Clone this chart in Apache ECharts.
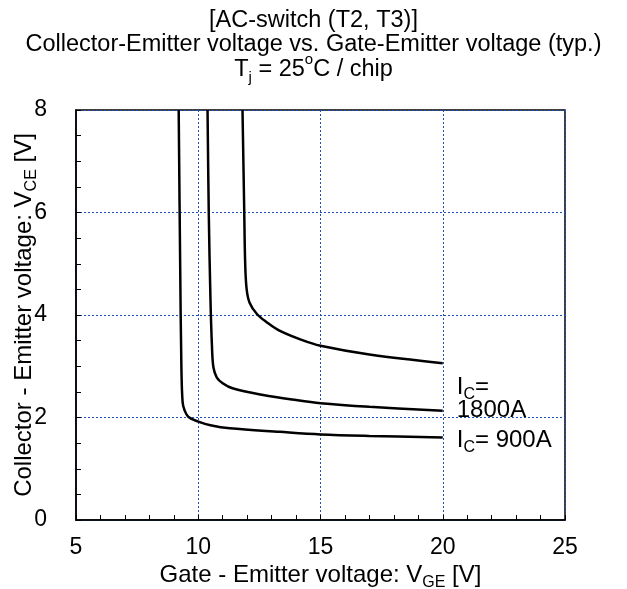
<!DOCTYPE html>
<html>
<head>
<meta charset="utf-8">
<script src="https://cdn.jsdelivr.net/npm/echarts@6/dist/echarts.min.js"></script>
<style>html,body{margin:0;padding:0;background:#fff}#c{width:627px;height:589px}</style>
</head>
<body>
<div id="c"></div>
<script>
// Data
const vge900  = [9.20, 9.26, 9.31, 9.36, 9.44, 9.60, 10.00, 10.50, 11.29, 13.34, 15.00, 17.00, 20.00];
const vce900  = [8.00, 5.00, 3.00, 2.30, 2.14, 2.01, 1.92, 1.85, 1.79, 1.72, 1.67, 1.64, 1.61];
const vge1800 = [10.38, 10.43, 10.50, 10.56, 10.62, 10.76, 11.00, 11.40, 12.65, 14.00, 15.00, 17.00, 20.00];
const vce1800 = [8.00, 6.00, 4.30, 3.40, 2.98, 2.78, 2.67, 2.57, 2.44, 2.34, 2.28, 2.21, 2.13];
const vge2700 = [11.81, 11.88, 11.92, 11.98, 12.10, 12.40, 12.80, 13.30, 14.20, 15.00, 17.00, 20.00];
const vce2700 = [8.00, 6.05, 5.00, 4.50, 4.24, 4.02, 3.86, 3.70, 3.52, 3.40, 3.23, 3.06];
const xTicks = [5, 10, 15, 20, 25];
const yTicks = [0, 2, 4, 6, 8];

const FONT = 'Liberation Sans, Arial, sans-serif';
const pair = (xs, ys) => xs.map((x, i) => [x, ys[i]]);

const chart = echarts.init(document.getElementById('c'), null, {renderer: 'canvas'});
const lineStyle = {color: '#000', width: 2.5};
const subStyle = {fontFamily: FONT, fontSize: 16, color: '#000', verticalAlign: 'bottom', padding: [0, 0, -4, 0]};
const labelRich = {
  m: {fontSize: 24, fontFamily: FONT, color: '#000', lineHeight: 23},
  s: subStyle
};
const gridLine = {color: '#1f4fb4', type: [2, 2], width: 1};

chart.setOption({
  animation: false,
  backgroundColor: '#fff',
  title: {
    text: '{m|[AC-switch (T2, T3)]}\n{m|Collector-Emitter voltage vs. Gate-Emitter voltage (typ.)}\n{m|T}{s|j}{m| = 25}{p|o}{m|C / chip}',
    left: 'center',
    top: 3,
    textStyle: {
      fontFamily: FONT, fontWeight: 'normal', color: '#000', fontSize: 23.5,
      rich: {
        m: {fontFamily: FONT, fontSize: 23.5, color: '#000', lineHeight: 24.5},
        s: {fontFamily: FONT, fontSize: 15, color: '#000', verticalAlign: 'bottom', padding: [0, 0, -4, 0]},
        p: {fontFamily: FONT, fontSize: 15, color: '#000', verticalAlign: 'top', padding: [-5, 0, 0, 0]}
      }
    }
  },
  grid: {left: 76, right: 62, top: 110, bottom: 69, outerBoundsMode: 'none', containLabel: false,
         show: true, borderColor: '#000', borderWidth: 1.5, backgroundColor: 'transparent'},
  xAxis: {
    type: 'value', min: xTicks[0], max: xTicks[xTicks.length - 1], interval: 5,
    name: '{m|Gate - Emitter voltage: V}{s|GE}{m| [V]}',
    nameLocation: 'middle', nameGap: 43, nameMoveOverlap: false,
    nameTextStyle: {
      rich: {
        m: {fontFamily: FONT, fontSize: 24, color: '#000', lineHeight: 24},
        s: subStyle
      }
    },
    axisLine: {show: true, onZero: false, lineStyle: {color: '#000', width: 1.5}},
    axisTick: {show: true, inside: true, length: 5, lineStyle: {color: '#000', width: 1}},
    minorTick: {show: true, splitNumber: 5, length: 5, lineStyle: {color: '#000', width: 1}},
    axisLabel: {fontFamily: FONT, fontSize: 23, color: '#000', margin: 16},
    splitLine: {show: true, lineStyle: gridLine}
  },
  yAxis: {
    type: 'value', min: yTicks[0], max: yTicks[yTicks.length - 1], interval: 2,
    name: '{m|Collector - Emitter voltage: V}{s|CE}{m| [V]}',
    nameLocation: 'middle', nameGap: 40, nameRotate: 90, nameMoveOverlap: false,
    nameTextStyle: {
      rich: {
        m: {fontFamily: FONT, fontSize: 24, color: '#000', lineHeight: 24},
        s: subStyle
      }
    },
    axisLine: {show: true, onZero: false, lineStyle: {color: '#000', width: 1.5}},
    axisTick: {show: true, inside: true, length: 5, lineStyle: {color: '#000', width: 1}},
    minorTick: {show: true, splitNumber: 4, length: 5, lineStyle: {color: '#000', width: 1}},
    axisLabel: {fontFamily: FONT, fontSize: 23, color: '#000', margin: 29},
    splitLine: {show: true, lineStyle: gridLine}
  },
  series: [
    {
      type: 'line', data: pair(vge900, vce900), showSymbol: false, smooth: 0.35,
      lineStyle: lineStyle, itemStyle: {color: '#000'},
      endLabel: {show: true, distance: 14, offset: [0, 3], formatter: '{m|I}{s|C}{m|= 900A}', rich: labelRich}
    },
    {
      type: 'line', data: pair(vge1800, vce1800), showSymbol: false, smooth: 0.35,
      lineStyle: lineStyle, itemStyle: {color: '#000'},
      endLabel: {show: true, distance: 14, offset: [0, -12], formatter: '{m|I}{s|C}{m|=}\n{m|1800A}', rich: labelRich}
    },
    {
      type: 'line', data: pair(vge2700, vce2700), showSymbol: false, smooth: 0.35,
      lineStyle: lineStyle, itemStyle: {color: '#000'}
    }
  ]
});
</script>
</body>
</html>
